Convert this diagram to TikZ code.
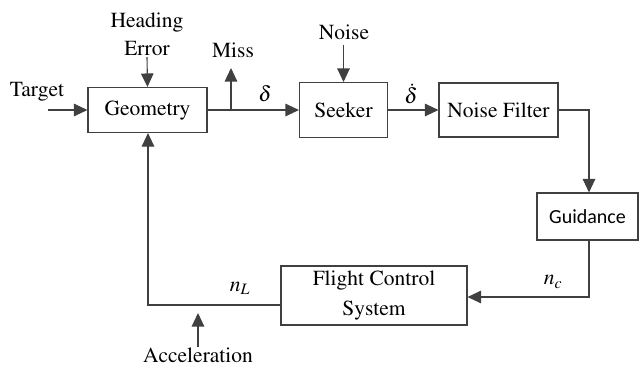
\documentclass[tikz,border=0pt]{standalone}
\usepackage{fontspec}
\usepackage{mathptmx}
\newfontfamily\guidfont{Carlito}
\newcommand\tmsfont{\fontencoding{OT1}\fontfamily{ptm}\fontseries{m}\fontshape{n}\selectfont}
\usetikzlibrary{arrows.meta}
\begin{document}
\begin{tikzpicture}[x=1pt,y=-1pt,
  every node/.style={font=\tmsfont\fontsize{21.5}{28}\selectfont, inner sep=0pt},
  blk/.style={draw=black!75, line width=1.1pt, rectangle, align=center},
  ln/.style={draw=black!75, line width=1.1pt},
  arr/.style={ln, -{Triangle[length=13.5pt,width=12.5pt]}}]
\useasboundingbox (0,0) rectangle (640,368);
% blocks
\node[blk, minimum width=119pt, minimum height=45pt] (geo) at (147.5,110) {Geometry};
\node[blk, minimum width=88pt, minimum height=55pt] (seek) at (343.5,110) {Seeker};
\node[blk, minimum width=119pt, minimum height=54pt] (nf) at (498.5,110) {Noise Filter};
\node[blk, minimum width=101pt, minimum height=47pt, font=\guidfont\fontsize{20}{24}\selectfont] (gd) at (587.5,216.5) {Guidance};
\node[blk, minimum width=186pt, minimum height=59pt, font=\tmsfont\fontsize{21.5}{30}\selectfont] (fcs) at (374,295.5) {Flight Control\\System};
% labels
\node (target) at (37,92) {Target};
\node[align=center] (head) at (147,34) {Heading\\Error};
\node (miss) at (233,50) {Miss};
\node (noise) at (344,32) {Noise};
\node (acc) at (198,355) {Acceleration};
\node (dl) at (265,94) {$\delta$};
\node (ddl) at (411,94) {$\dot{\delta}$};
\node (nc) at (553,282) {$n_c$};
\node (nl) at (240,288) {$n_L$};
% coordinates
\coordinate (tst) at (48,110);
\coordinate (hst) at (147,57);
\coordinate (jm) at (231,110);
\coordinate (mend) at (231,68);
\coordinate (nst) at (343.5,45);
\coordinate (c1) at (589,110);
\coordinate (c2) at (589,297);
\coordinate (c3) at (148,305);
\coordinate (ast) at (198,347);
\coordinate (aend) at (198,313);
% connectors
\draw[arr] (tst) -- (geo.west);
\draw[arr] (hst) -- (geo.north);
\draw[arr] (geo.east) -- (seek.west);
\draw[arr] (jm) -- (mend);
\draw[arr] (nst) -- (seek.north);
\draw[arr] (seek.east) -- (nf.west);
\draw[arr] (nf.east) -- (c1) -- (c1 |- gd.north);
\draw[arr] (c1 |- gd.south) -- (c2) -- (c2 -| fcs.east);
\draw[arr] (c3 -| fcs.west) -- (c3) -- (c3 |- geo.south);
\draw[arr] (ast) -- (aend);
\end{tikzpicture}
\end{document}
